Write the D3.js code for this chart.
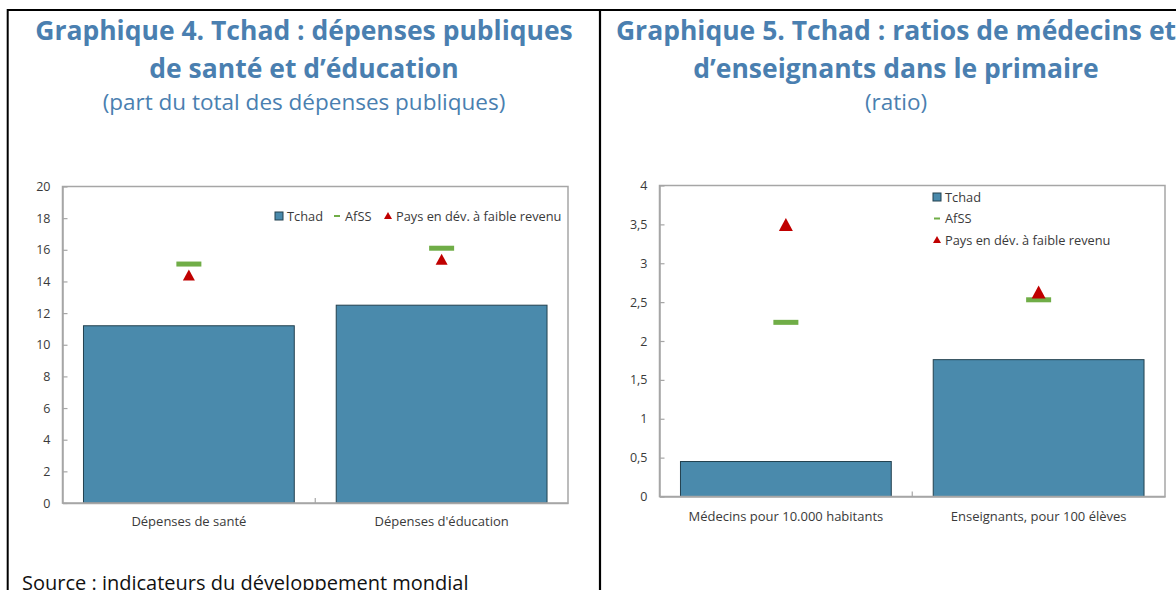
<!DOCTYPE html>
<html>
<head>
<meta charset="utf-8">
<script src="https://cdn.jsdelivr.net/npm/d3@7"></script>
<style>
	body { margin: 0; background: #fff; }
	svg { display: block; font-family: "Open Sans", "Noto Sans", sans-serif; }
</style>
</head>
<body>
<svg id="chart" width="1176" height="590"></svg>
<script>
// --- chart 4 data
var healthEduCats = ["Dépenses de santé", "Dépenses d'éducation"];
var healthEduTchad = [11.2, 12.5];
var healthEduAfss = [15.1, 16.1];
var healthEduLic = [14.4, 15.4];
var healthEduTicks = [0, 2, 4, 6, 8, 10, 12, 14, 16, 18, 20];

// --- chart 5 data
var ratioCats = ["Médecins pour 10.000 habitants", "Enseignants, pour 100 élèves"];
var ratioTchad = [0.45, 1.76];
var ratioAfss = [2.24, 2.53];
var ratioLic = [3.5, 2.63];
var ratioTicks = [0, 0.5, 1, 1.5, 2, 2.5, 3, 3.5, 4];

var seriesNames = ["Tchad", "AfSS", "Pays en dév. à faible revenu"];

var titleColor = '#4a7fb0';
var barColor = '#4a8aac';
var barStroke = '#23414f';
var green = '#70ad47';
var red = '#c00000';
var axisColor = '#a6a6a6';
var textColor = '#3a3a3a';

var svg = d3.select('#chart');

//frame lines
svg.append('line').attr('x1', 7.7).attr('x2', 1176).attr('y1', 10).attr('y2', 10)
	.attr('stroke', '#000').attr('stroke-width', 2);
svg.append('line').attr('x1', 7.7).attr('x2', 7.7).attr('y1', 9).attr('y2', 590)
	.attr('stroke', '#000').attr('stroke-width', 2);
svg.append('line').attr('x1', 600).attr('x2', 600).attr('y1', 9).attr('y2', 590)
	.attr('stroke', '#000').attr('stroke-width', 2.2);

function titles(cx, lines, sub){
	lines.forEach(function(t, i){
		svg.append('text')
			.attr('x', cx).attr('y', 40 + i*38)
			.attr('text-anchor', 'middle')
			.attr('font-size', 26.5).attr('font-weight', 'bold')
			.attr('fill', titleColor)
			.text(t);
	});
	svg.append('text')
		.attr('x', cx).attr('y', 110)
		.attr('text-anchor', 'middle')
		.attr('font-size', 22.5)
		.attr('fill', titleColor)
		.text(sub);
}

titles(304, ["Graphique 4. Tchad : dépenses publiques", "de santé et d’éducation"], "(part du total des dépenses publiques)");
titles(896, ["Graphique 5. Tchad : ratios de médecins et", "d’enseignants dans le primaire"], "(ratio)");

svg.append('text')
	.attr('x', 22).attr('y', 590)
	.attr('font-size', 20)
	.attr('fill', '#111')
	.text('Source : indicateurs du développement mondial');

var commaFmt = function(v){ return String(v).replace('.', ','); };

function drawChart(cfg){
	var g = svg.append('g');
	var x = d3.scaleBand()
		.domain(cfg.cats)
		.range([cfg.left, cfg.right])
		.paddingInner(0.166)
		.paddingOuter(0.083);
	var xOuter = d3.scaleBand().domain(cfg.cats).range([cfg.left, cfg.right]);
	var y = d3.scaleLinear()
		.domain([0, cfg.ticks[cfg.ticks.length - 1]])
		.range([cfg.bottom, cfg.top]);

	//bars
	g.selectAll('rect.bar')
		.data(cfg.tchad)
		.enter().append('rect')
		.attr('class', 'bar')
		.attr('x', function(d, i){ return x(cfg.cats[i]); })
		.attr('y', function(d){ return y(d); })
		.attr('width', x.bandwidth())
		.attr('height', function(d){ return y(0) - y(d); })
		.attr('fill', barColor)
		.attr('stroke', barStroke)
		.attr('stroke-width', 1);

	//box
	g.append('rect')
		.attr('x', cfg.left).attr('y', cfg.top)
		.attr('width', cfg.right - cfg.left).attr('height', cfg.bottom - cfg.top)
		.attr('fill', 'none')
		.attr('stroke', axisColor).attr('stroke-width', 1.5);

	//y axis
	var yAx = g.append('g')
		.attr('transform', 'translate(' + cfg.left + ',0)')
		.call(d3.axisLeft(y).tickValues(cfg.ticks).tickFormat(commaFmt)
			.tickSizeInner(-5).tickSizeOuter(0).tickPadding(12));
	yAx.select('.domain').attr('stroke', axisColor).attr('stroke-width', 1.5);
	yAx.selectAll('.tick line').attr('stroke', axisColor).attr('stroke-width', 1.2);
	yAx.selectAll('.tick text')
		.attr('fill', textColor).attr('font-size', 12.5)
		.attr('font-family', '"Open Sans", sans-serif');

	//x axis
	var xAx = g.append('g')
		.attr('transform', 'translate(0,' + cfg.bottom + ')')
		.call(d3.axisBottom(xOuter).tickSize(0).tickPadding(cfg.labelPad));
	xAx.select('.domain').attr('stroke', axisColor).attr('stroke-width', 1.5);
	xAx.selectAll('.tick text')
		.attr('fill', textColor).attr('font-size', 13)
		.attr('font-family', '"Open Sans", sans-serif');
	//middle separator tick
	g.append('line')
		.attr('x1', xOuter(cfg.cats[1])).attr('x2', xOuter(cfg.cats[1]))
		.attr('y1', cfg.bottom).attr('y2', cfg.bottom - 5)
		.attr('stroke', axisColor).attr('stroke-width', 1.2);

	var cx = function(i){ return xOuter(cfg.cats[i]) + xOuter.bandwidth()/2; };

	//AfSS dashes
	g.selectAll('rect.afss')
		.data(cfg.afss)
		.enter().append('rect')
		.attr('class', 'afss')
		.attr('x', function(d, i){ return cx(i) - 12.5; })
		.attr('y', function(d){ return y(d) - 2.5; })
		.attr('width', 25).attr('height', 5)
		.attr('fill', green);

	//LIC triangles
	var tw = cfg.triW, th = cfg.triH;
	g.selectAll('path.lic')
		.data(cfg.lic)
		.enter().append('path')
		.attr('class', 'lic')
		.attr('transform', function(d, i){ return 'translate(' + cx(i) + ',' + y(d) + ')'; })
		.attr('d', 'M0,' + (-th/2) + 'L' + (tw/2) + ',' + (th/2) + 'L' + (-tw/2) + ',' + (th/2) + 'Z')
		.attr('fill', red);

	cfg.legend(g);
}

function legendItem(g, kind, x, y, label){
	if(kind == 0){
		g.append('rect').attr('x', x).attr('y', y - 4).attr('width', 8).attr('height', 8)
			.attr('fill', barColor).attr('stroke', barStroke).attr('stroke-width', 1);
	} else if(kind == 1){
		g.append('rect').attr('x', x + 1).attr('y', y - 1).attr('width', 6).attr('height', 2)
			.attr('fill', green);
	} else {
		g.append('path')
			.attr('d', 'M' + (x + 4) + ',' + (y - 4) + 'L' + (x + 8) + ',' + (y + 3) + 'L' + x + ',' + (y + 3) + 'Z')
			.attr('fill', red);
	}
	g.append('text')
		.attr('x', x + 12).attr('y', y + 4.5)
		.attr('font-size', 12.8)
		.attr('fill', textColor)
		.text(label);
}

drawChart({
	cats: healthEduCats, tchad: healthEduTchad, afss: healthEduAfss, lic: healthEduLic,
	ticks: healthEduTicks,
	left: 62.5, right: 568, top: 186.5, bottom: 503,
	triW: 12, triH: 11, labelPad: 14,
	legend: function(g){
		legendItem(g, 0, 275, 216, seriesNames[0]);
		legendItem(g, 1, 333, 216, seriesNames[1]);
		legendItem(g, 2, 384, 216, seriesNames[2]);
	}
});

drawChart({
	cats: ratioCats, tchad: ratioTchad, afss: ratioAfss, lic: ratioLic,
	ticks: ratioTicks,
	left: 659.5, right: 1165, top: 185.5, bottom: 496.5,
	triW: 14, triH: 13, labelPad: 15,
	legend: function(g){
		legendItem(g, 0, 933, 197, seriesNames[0]);
		legendItem(g, 1, 933, 218.5, seriesNames[1]);
		legendItem(g, 2, 933, 240, seriesNames[2]);
	}
});
</script>
</body>
</html>
